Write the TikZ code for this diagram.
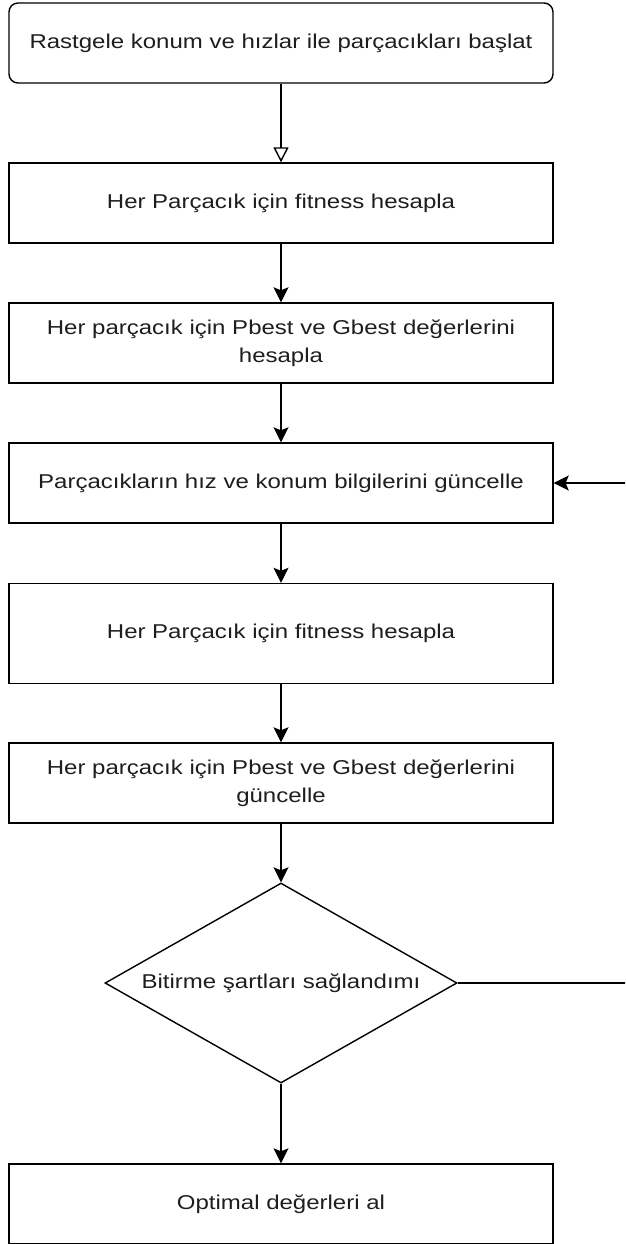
\documentclass[tikz,border=0pt]{standalone}
\usepackage{fontspec}
\setmainfont{Liberation Sans}[FakeStretch=1.2]
\usetikzlibrary{arrows.meta,shapes.geometric}
\definecolor{txt}{RGB}{30,30,30}
\begin{document}
\begin{tikzpicture}[x=1pt,y=-1pt,
  box/.style={draw, line width=1.4pt, minimum width=544pt, minimum height=80pt,
    align=center, inner sep=0pt, text=txt, font=\fontsize{20}{28}\selectfont},
  decision/.style={draw, diamond, line width=1.4pt, minimum width=352pt, minimum height=200pt,
    aspect=1.76, inner sep=0pt, align=center, text=txt, font=\fontsize{20}{28}\selectfont},
  flow/.style={draw, line width=1.4pt, -{Stealth[length=15pt,width=15pt,inset=3pt]}},
  openflow/.style={draw, line width=1.4pt, -{Triangle[open,length=15pt,width=15pt,fill=white]}}]
\useasboundingbox (0,0) rectangle (625,1244);
\clip (0,0) rectangle (625,1244);
\fill[white] (0,0) rectangle (625,1244);
\node[box, rounded corners=9pt] (b1) at (281,43) {Rastgele konum ve hızlar ile parçacıkları başlat};
\node[box] (b2) at (281,203) {Her Parçacık için fitness hesapla};
\node[box] (b3) at (281,343) {Her parçacık için Pbest ve Gbest değerlerini\\hesapla};
\node[box] (b4) at (281,483) {Parçacıkların hız ve konum bilgilerini güncelle};
\node[box, minimum height=100pt] (b5) at (281,633.5) {Her Parçacık için fitness hesapla};
\node[box] (b6) at (281,783) {Her parçacık için Pbest ve Gbest değerlerini\\güncelle};
\node[decision] (d) at (281,983) {Bitirme şartları sağlandımı};
\node[box] (b7) at (281,1204) {Optimal değerleri al};
\coordinate (loop) at (640,983);
\draw[openflow] (b1) -- (b2);
\draw[flow] (b2) -- (b3);
\draw[flow] (b3) -- (b4);
\draw[flow] (b4) -- (b5);
\draw[flow] (b5) -- (b6);
\draw[flow] (b6) -- (d);
\draw[flow] (d) -- (b7);
\draw[flow] (d.east) -- (loop) |- (b4.east);
\end{tikzpicture}
\end{document}
